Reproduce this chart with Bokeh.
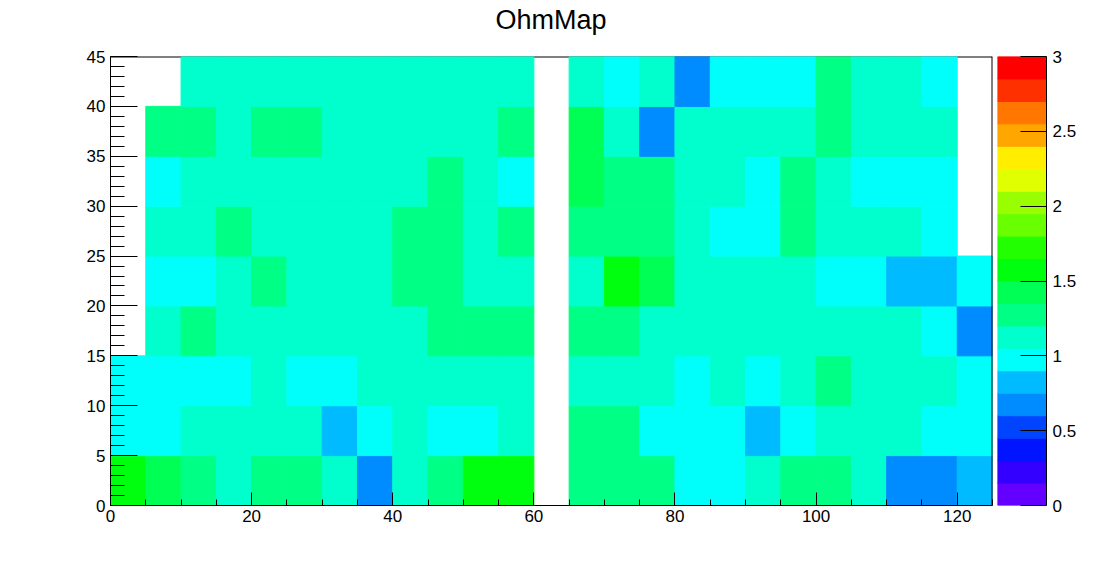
from bokeh.plotting import figure
from bokeh.layouts import row, column
from bokeh.models import (FixedTicker, Range1d, NumeralTickFormatter,
                          ColumnDataSource, LinearColorMapper, Div)
from bokeh.embed import file_html
from bokeh.resources import INLINE

# ---------------- data ----------------
title_text = "OhmMap"
x_edges = list(range(0, 130, 5))      # 25 bins, 0..125
y_edges = list(range(0, 50, 5))       # 9 bins, 0..45
z_min, z_max, n_levels = 0.0, 3.0, 20

# rows from y=0-5 (bottom) up to y=40-45 (top); 0 = empty bin
ohm_r0 = [1.58, 1.41, 1.29, 1.12, 1.27, 1.31, 1.14, 0.68, 1.10, 1.26, 1.56, 1.59, 0,
          1.28, 1.30, 1.25, 0.98, 1.00, 1.13, 1.27, 1.29, 1.11, 0.67, 0.70, 0.84]
ohm_r1 = [1.01, 0.97, 1.12, 1.15, 1.09, 1.13, 0.82, 0.99, 1.16, 0.96, 1.02, 1.11, 0,
          1.26, 1.24, 0.98, 1.00, 0.95, 0.81, 1.03, 1.14, 1.10, 1.12, 0.97, 0.99]
ohm_r2 = [0.99, 1.02, 0.96, 0.98, 1.13, 1.01, 0.97, 1.15, 1.11, 1.08, 1.14, 1.12, 0,
          1.13, 1.10, 1.16, 0.96, 1.12, 1.00, 1.09, 1.30, 1.14, 1.11, 1.13, 0.98]
ohm_r3 = [0, 1.14, 1.28, 1.12, 1.10, 1.15, 1.13, 1.09, 1.16, 1.31, 1.27, 1.26, 0,
          1.29, 1.25, 1.12, 1.14, 1.11, 1.10, 1.15, 1.13, 1.12, 1.09, 1.01, 0.69]
ohm_r4 = [0, 0.98, 1.00, 1.13, 1.27, 1.11, 1.14, 1.12, 1.28, 1.30, 1.10, 1.15, 0,
          1.12, 1.56, 1.44, 1.13, 1.11, 1.16, 1.10, 0.97, 1.02, 0.83, 0.86, 0.99]
ohm_r5 = [0, 1.12, 1.15, 1.29, 1.11, 1.13, 1.10, 1.14, 1.26, 1.32, 1.12, 1.27, 0,
          1.28, 1.30, 1.26, 1.13, 0.99, 0.96, 1.31, 1.14, 1.11, 1.13, 1.00, 0]
ohm_r6 = [0, 0.97, 1.13, 1.10, 1.15, 1.12, 1.14, 1.11, 1.09, 1.29, 1.16, 1.01, 0,
          1.42, 1.27, 1.30, 1.12, 1.14, 0.98, 1.28, 1.11, 0.96, 1.00, 0.99, 0]
ohm_r7 = [0, 1.28, 1.31, 1.12, 1.27, 1.25, 1.13, 1.10, 1.15, 1.11, 1.14, 1.29, 0,
          1.43, 1.12, 0.66, 1.13, 1.10, 1.16, 1.12, 1.30, 1.11, 1.14, 1.13, 0]
ohm_r8 = [0, 0, 1.13, 1.11, 1.14, 1.12, 1.10, 1.15, 1.13, 1.09, 1.12, 1.16, 0,
          1.14, 0.98, 1.11, 0.68, 1.01, 0.97, 0.99, 1.28, 1.12, 1.13, 1.00, 0]
ohm_rows = [ohm_r0, ohm_r1, ohm_r2, ohm_r3, ohm_r4, ohm_r5, ohm_r6, ohm_r7, ohm_r8]

x_major = [0, 20, 40, 60, 80, 100, 120]
x_minor = list(range(0, 130, 5))
y_major = list(range(0, 50, 5))
y_minor = list(range(0, 46, 1))
z_ticks = [0, 0.5, 1, 1.5, 2, 2.5, 3]

# ROOT "pretty" palette, 20 contour levels
palette = ["#6300ff", "#3300ff", "#0014ff", "#0044ff", "#008bff",
           "#00bbff", "#00fffb", "#00ffcc", "#00ff85", "#00ff55",
           "#00ff0e", "#22ff00", "#69ff00", "#99ff00", "#e0ff00",
           "#ffee00", "#ffa700", "#ff7700", "#ff3000", "#ff0000"]

FONT = "Liberation Sans"
TOP = 10   # canvas border above the frame (title Div supplies the rest)

mapper = LinearColorMapper(palette=palette, low=z_min, high=z_max)

left, right, bottom, top, zz = [], [], [], [], []
for j, vals in enumerate(ohm_rows):
    for i, v in enumerate(vals):
        if v > 0:
            left.append(x_edges[i]); right.append(x_edges[i + 1])
            bottom.append(y_edges[j]); top.append(y_edges[j + 1])
            zz.append(v)
src = ColumnDataSource(dict(left=left, right=right, bottom=bottom, top=top, z=zz))

# ---------------- title ----------------
title_div = Div(text=title_text, width=1102, height=46, margin=0,
                styles={"font-family": FONT, "font-size": "27px", "color": "black",
                        "text-align": "center", "line-height": "27px",
                        "padding-top": "7px", "box-sizing": "border-box",
                        "width": "1102px"})

# ---------------- main map ----------------
p1 = figure(width=994, height=516, x_range=Range1d(0, 125), y_range=Range1d(0, 45),
            output_backend="svg", toolbar_location=None, margin=0,
            min_border_left=110, min_border_right=2, min_border_top=TOP, min_border_bottom=57)
p1.background_fill_color = "white"
p1.border_fill_color = "white"
p1.outline_line_color = None
p1.grid.visible = False

# frame top / right (drawn under cells like ROOT)
p1.segment(x0=[0], y0=[45], x1=[125], y1=[45], line_color="black", line_width=2)

p1.quad(left="left", right="right", bottom="bottom", top="top", source=src,
        fill_color={"field": "z", "transform": mapper},
        line_color={"field": "z", "transform": mapper}, line_width=1)

p1.segment(x0=[125], y0=[0], x1=[125], y1=[45], line_color="black", line_width=2)

xa = p1.xaxis[0]
xa.ticker = FixedTicker(ticks=x_major, minor_ticks=x_minor)
ya = p1.yaxis[0]
ya.ticker = FixedTicker(ticks=y_major, minor_ticks=y_minor)
for ax in (xa, ya):
    ax.axis_line_color = "black"
    ax.major_tick_line_color = "black"
    ax.minor_tick_line_color = "black"
    ax.major_tick_out = 0
    ax.minor_tick_out = 0
    ax.major_label_text_font = FONT
    ax.major_label_text_font_size = "17px"
    ax.major_label_text_color = "black"
xa.major_tick_in = 13
xa.minor_tick_in = 6
xa.major_label_standoff = 4
ya.major_tick_in = 27
ya.minor_tick_in = 14
ya.major_label_standoff = 5

# ---------------- colour scale ----------------
step = (z_max - z_min) / n_levels
lev_lo = [z_min + k * step for k in range(n_levels)]
lev_hi = [z_min + (k + 1) * step for k in range(n_levels)]
lev_mid = [(a + b) / 2 for a, b in zip(lev_lo, lev_hi)]
csrc = ColumnDataSource(dict(bottom=lev_lo, top=lev_hi, z=lev_mid,
                             left=[0] * n_levels, right=[1] * n_levels))

p2 = figure(width=108, height=516, x_range=Range1d(0, 1), y_range=Range1d(z_min, z_max),
            output_backend="svg", toolbar_location=None, margin=0,
            x_axis_location=None, y_axis_location="right",
            min_border_left=3, min_border_right=56, min_border_top=TOP, min_border_bottom=57)
p2.background_fill_color = "white"
p2.border_fill_color = "white"
p2.outline_line_color = None
p2.grid.visible = False
p2.quad(left="left", right="right", bottom="bottom", top="top", source=csrc,
        fill_color={"field": "z", "transform": mapper},
        line_color={"field": "z", "transform": mapper}, line_width=1)
za = p2.yaxis[0]
za.ticker = FixedTicker(ticks=z_ticks, minor_ticks=[])
za.formatter = NumeralTickFormatter(format="0.[0]")
za.axis_line_color = "black"
za.major_tick_line_color = "black"
za.minor_tick_line_color = None
za.major_tick_in = 26
za.major_tick_out = 0
za.major_label_standoff = 6
za.major_label_text_font = FONT
za.major_label_text_font_size = "17px"
za.major_label_text_color = "black"

layout = column(title_div, row(p1, p2, spacing=0, margin=0), spacing=0, margin=0)
open("out.html", "w").write(file_html(layout, INLINE))
